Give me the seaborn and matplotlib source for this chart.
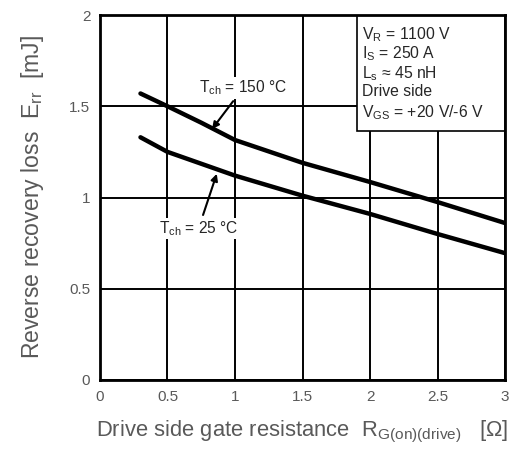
import numpy as np
import pandas as pd
import matplotlib
matplotlib.use("Agg")
import matplotlib.pyplot as plt
from matplotlib.patches import Rectangle
import seaborn as sns

# gate resistance [ohm] and recovery loss [mJ]
rg = [0.3, 0.5, 0.75, 1.0, 1.5, 2.0, 2.5, 3.0]
err_150 = [1.57, 1.50, 1.41, 1.315, 1.19, 1.085, 0.975, 0.86]
err_25 = [1.33, 1.25, 1.185, 1.12, 1.01, 0.91, 0.80, 0.695]

x_ticks = [0, 0.5, 1, 1.5, 2, 2.5, 3]
x_tick_labels = ["0", "0.5", "1", "1.5", "2", "2.5", "3"]
y_ticks = [0, 0.5, 1, 1.5, 2]
y_tick_labels = ["0", "0.5", "1", "1.5", "2"]

cond_lines = ["$\\mathregular{V_R}$ = 1100 V",
              "$\\mathregular{I_S}$ = 250 A",
              "$\\mathregular{L_s}$ \u2248 45 nH",
              "Drive side",
              "$\\mathregular{V_{GS}}$ = +20 V/-6 V"]
cond_y = [1.869, 1.762, 1.656, 1.556, 1.44]

df = pd.DataFrame({
    "rg": rg + rg,
    "err": err_150 + err_25,
    "temp": ["150"] * len(rg) + ["25"] * len(rg),
})

sns.set_style("white")
plt.rcParams['font.family'] = ['Liberation Sans', 'DejaVu Sans']
plt.rcParams['mathtext.fontset'] = 'custom'
plt.rcParams['mathtext.rm'] = 'Liberation Sans'
plt.rcParams['mathtext.it'] = 'Liberation Sans:italic'

fig = plt.figure(figsize=(5.18, 4.5), dpi=100)
ax = fig.add_axes([0.193, 0.1556, 0.782, 0.811])

sns.lineplot(data=df, x="rg", y="err", hue="temp", palette={"150": "black", "25": "black"},
             linewidth=3.2, legend=False, ax=ax, zorder=3)

ax.set_xlim(0, 3)
ax.set_ylim(0, 2)
ax.set_xticks(x_ticks)
ax.set_xticklabels(x_tick_labels)
ax.set_yticks(y_ticks)
ax.set_yticklabels(y_tick_labels)
ax.tick_params(length=0, labelsize=11, labelcolor="#595959", pad=7)
ax.grid(True, color="black", linewidth=1.4)
ax.set_axisbelow(True)
for s in ax.spines.values():
    s.set_color("black")
    s.set_linewidth(2)
    s.set_visible(True)
    s.set_zorder(5)

ax.set_xlabel("Drive side gate resistance  $\\mathregular{R_{G(on)(drive)}}$   [\u03a9]",
              fontsize=15.8, color="#595959", labelpad=11)
ax.set_ylabel("Reverse recovery loss  $\\mathregular{E_{rr}}$  [mJ]",
              fontsize=16.6, color="#595959", labelpad=17)

# condition box
ax.add_patch(Rectangle((1.905, 1.366), 1.095, 0.634, fc="white", ec="black", lw=1.2, zorder=4))
for txt, yy in zip(cond_lines, cond_y):
    ax.text(1.94, yy, txt, fontsize=11.3, va="baseline", ha="left", zorder=6)

# curve labels
ax.annotate("$\\mathregular{T_{ch}}$ = 150 \u00b0C", xy=(0.83, 1.375), xytext=(1.06, 1.60),
            fontsize=11.2, ha="center", va="center", zorder=6,
            bbox=dict(boxstyle="square,pad=0.1", fc="white", ec="none"),
            arrowprops=dict(arrowstyle="-|>", color="black", lw=1.5, mutation_scale=10,
                            shrinkA=2, shrinkB=0))
ax.annotate("$\\mathregular{T_{ch}}$ = 25 \u00b0C", xy=(0.865, 1.13), xytext=(0.73, 0.83),
            fontsize=11.2, ha="center", va="center", zorder=6,
            bbox=dict(boxstyle="square,pad=0.1", fc="white", ec="none"),
            arrowprops=dict(arrowstyle="-|>", color="black", lw=1.5, mutation_scale=10,
                            shrinkA=2, shrinkB=0))

fig.savefig("out.png", dpi=100)
